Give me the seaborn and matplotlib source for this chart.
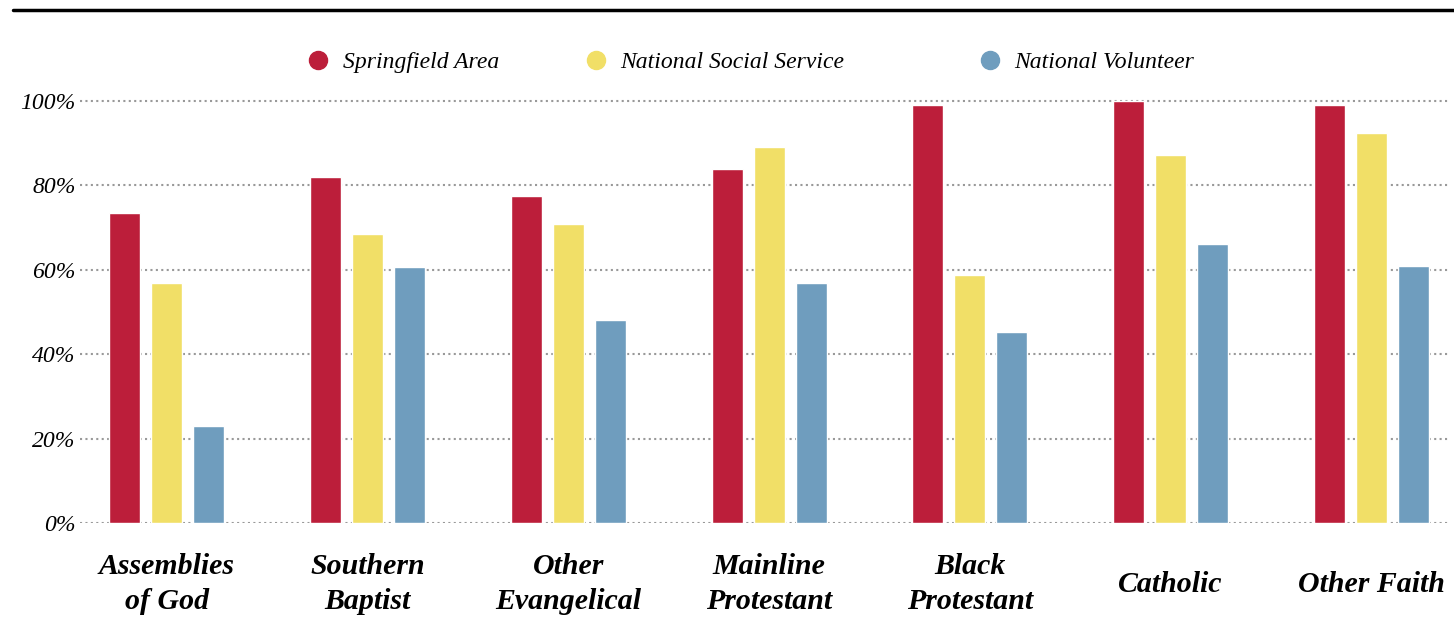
import matplotlib
matplotlib.use("Agg")
import matplotlib.pyplot as plt
from matplotlib.lines import Line2D
import pandas as pd
import seaborn as sns

# ── data ──
categories = ["Assemblies\nof God", "Southern\nBaptist", "Other\nEvangelical",
              "Mainline\nProtestant", "Black\nProtestant", "Catholic", "Other Faith"]
series = ["Springfield Area", "National Social Service", "National Volunteer"]
springfield = [73.5, 82, 77.4, 83.8, 99, 100, 99]
social_service = [56.9, 68.4, 70.9, 89.1, 58.8, 87.1, 92.4]
volunteer = [23, 60.7, 48.2, 56.9, 45.3, 66, 60.8]
yticks = [0, 20, 40, 60, 80, 100]
colors = ["#BC1E3A", "#F1DF67", "#6F9DBE"]

df = pd.DataFrame({
    "category": categories * 3,
    "series": [series[0]] * 7 + [series[1]] * 7 + [series[2]] * 7,
    "value": springfield + social_service + volunteer,
})

sns.set_theme(style="white")
plt.rcParams["font.family"] = ["Liberation Serif", "DejaVu Serif"]
plt.rcParams["text.color"] = "black"
plt.rcParams["xtick.color"] = "black"
plt.rcParams["ytick.color"] = "black"

fig = plt.figure(figsize=(14.54, 6.37), dpi=100)
ax = fig.add_axes([0.055, 0.179, 0.942, 0.666])

sns.barplot(data=df, x="category", y="value", hue="series", order=categories,
            hue_order=series, palette=colors, width=0.627, gap=0.26,
            saturation=1, legend=False, ax=ax)

ax.set_ylim(0, 100.5)
ax.set_xlim(-0.433, 6.39)
ax.set_yticks(yticks)
ax.set_yticklabels([f"{t}%" for t in yticks], fontsize=17, style="italic")
ax.set_xlabel("")
ax.set_ylabel("")
ax.tick_params(axis="y", length=0, pad=3)
ax.tick_params(axis="x", length=0, pad=44)
for lab in ax.get_xticklabels():
    lab.set_fontsize(21.5)
    lab.set_fontweight("bold")
    lab.set_fontstyle("italic")
    lab.set_verticalalignment("center")
    lab.set_linespacing(1.4)
for s in ax.spines.values():
    s.set_visible(False)
ax.yaxis.grid(True, linestyle=(0, (1, 1.6)), color="#999999", linewidth=1.5)
ax.xaxis.grid(False)
ax.set_axisbelow(True)

# legend: one entry per series, placed where the reference has them
legend_x = [318, 596, 990]
for name, c, px in zip(series, colors, legend_x):
    h = Line2D([], [], marker="o", ls="", color=c, markersize=13)
    fig.legend([h], [name], loc="center left",
               bbox_to_anchor=((px - 12) / 1454, 1 - 62 / 637),
               frameon=False, prop={"size": 17, "style": "italic"},
               borderpad=0, borderaxespad=0, handlelength=1,
               handletextpad=0.55)

fig.add_artist(Line2D([0.009, 1.0], [0.984, 0.984], color="black", lw=2.5,
                      transform=fig.transFigure))

fig.savefig("out.png", dpi=100)
